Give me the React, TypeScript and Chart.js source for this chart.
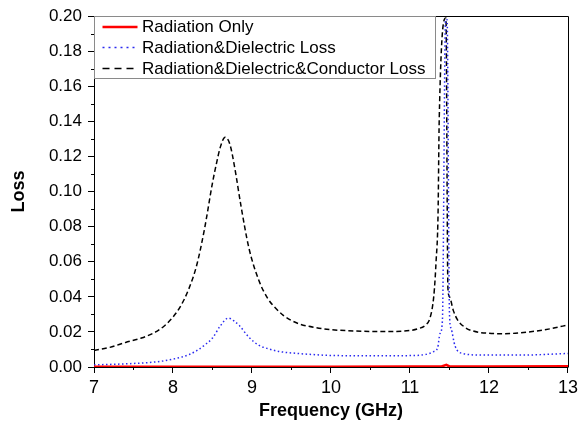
import React, { useEffect, useRef } from "react";
import { Chart, registerables } from "chart.js";

Chart.register(...registerables);

// ---------- DATA ----------
const xTicks = [7, 8, 9, 10, 11, 12, 13];
const yTicks = [0, 0.02, 0.04, 0.06, 0.08, 0.1, 0.12, 0.14, 0.16, 0.18, 0.2];

const seriesNames = [
  "Radiation Only",
  "Radiation&Dielectric Loss",
  "Radiation&Dielectric&Conductor Loss",
];

const radFreq = [7.0, 8.0, 9.0, 10.0, 11.0, 11.4, 11.46, 11.5, 12.0, 13.0];
const radLoss = [0.0002, 0.0002, 0.0002, 0.0002, 0.0003, 0.0003, 0.0012, 0.0003, 0.0003, 0.0004];

const dielFreq = [
  7.0, 7.45, 7.8, 8.0, 8.2, 8.3, 8.4, 8.5, 8.6, 8.7, 8.78, 8.84, 8.96, 9.09, 9.2, 9.35,
  9.56, 9.8, 10.0, 10.5, 11.0, 11.2, 11.3, 11.35, 11.38, 11.41, 11.45, 11.47, 11.5,
  11.52, 11.57, 11.67, 11.9, 12.4, 13.0,
];
const dielLoss = [
  0.0012, 0.0019, 0.003, 0.0045, 0.007, 0.0093, 0.0125, 0.0165, 0.0235, 0.0279, 0.026,
  0.0236, 0.017, 0.0123, 0.0105, 0.0088, 0.0078, 0.007, 0.0066, 0.0064, 0.0065, 0.0072,
  0.0088, 0.011, 0.019, 0.026, 0.198, 0.198, 0.03, 0.022, 0.012, 0.0077, 0.0068, 0.0068,
  0.0077,
];

const condFreq = [
  7.0, 7.2, 7.4, 7.6, 7.8, 7.9, 8.0, 8.1, 8.2, 8.3, 8.4, 8.5, 8.55, 8.6, 8.66, 8.72,
  8.78, 8.86, 8.96, 9.09, 9.2, 9.3, 9.4, 9.5, 9.6, 9.8, 10.0, 10.2, 10.5, 10.8, 11.0,
  11.1, 11.2, 11.25, 11.29, 11.31, 11.33, 11.355, 11.37, 11.455, 11.48, 11.5, 11.55,
  11.6, 11.7, 11.8, 12.0, 12.2, 12.4, 12.6, 12.8, 13.0,
];
const condLoss = [
  0.0094, 0.0112, 0.014, 0.0165, 0.0205, 0.0238, 0.0285, 0.035, 0.0445, 0.058, 0.079,
  0.105, 0.116, 0.1255, 0.131, 0.127, 0.114, 0.092, 0.068, 0.049, 0.039, 0.0335, 0.0293,
  0.0265, 0.0245, 0.0225, 0.0213, 0.0207, 0.0203, 0.0203, 0.0208, 0.0218, 0.024, 0.0275,
  0.036, 0.045, 0.06, 0.087, 0.141, 0.199, 0.045, 0.04, 0.032, 0.027, 0.0225, 0.0205,
  0.0192, 0.019, 0.0195, 0.0205, 0.022, 0.024,
];

const colors = ["#ff0000", "#2a2af0", "#000000"];

const toPts = (xs: number[], ys: number[]) => xs.map((x, i) => ({ x, y: ys[i] }));

const FONT = "'Liberation Sans', Arial, sans-serif";

const framePlugin = {
  id: "frameAndMinor",
  afterDraw(chart: any) {
    const { ctx, chartArea: a, scales } = chart;
    const xs = scales.x;
    const ys = scales.y;
    ctx.save();
    ctx.strokeStyle = "#000";
    ctx.lineWidth = 1;
    // frame top & right
    ctx.beginPath();
    ctx.moveTo(Math.round(a.left) + 0.5, Math.round(a.top) + 0.5);
    ctx.lineTo(Math.round(a.right) + 0.5, Math.round(a.top) + 0.5);
    ctx.lineTo(Math.round(a.right) + 0.5, Math.round(a.bottom) + 0.5);
    ctx.stroke();
    // minor ticks
    ctx.beginPath();
    for (let i = 0; i < xTicks.length - 1; i++) {
      const v = (xTicks[i] + xTicks[i + 1]) / 2;
      const px = Math.round(xs.getPixelForValue(v)) + 0.5;
      ctx.moveTo(px, a.bottom);
      ctx.lineTo(px, a.bottom + 3);
    }
    for (let i = 0; i < yTicks.length - 1; i++) {
      const v = (yTicks[i] + yTicks[i + 1]) / 2;
      const py = Math.round(ys.getPixelForValue(v)) + 0.5;
      ctx.moveTo(a.left, py);
      ctx.lineTo(a.left - 3, py);
    }
    ctx.stroke();

    // legend box
    const lx = Math.round(a.left) + 0.5;
    const ly = Math.round(a.top) + 0.5;
    const lw = 341;
    const lh = 62;
    ctx.fillStyle = "#fff";
    ctx.fillRect(lx, ly, lw, lh);
    ctx.strokeStyle = "#8a8a8a";
    ctx.strokeRect(lx, ly, lw, lh);
    const rows = [10.5, 31, 52];
    const dashes = [[], [2, 4], [7, 5]];
    const widths = [2.5, 1.5, 1.5];
    ctx.font = `17px ${FONT}`;
    ctx.textBaseline = "middle";
    ctx.textAlign = "left";
    for (let i = 0; i < 3; i++) {
      const y = ly + rows[i];
      ctx.beginPath();
      ctx.setLineDash(dashes[i]);
      ctx.strokeStyle = colors[i];
      ctx.lineWidth = widths[i];
      ctx.moveTo(lx + 8, y);
      ctx.lineTo(lx + 43, y);
      ctx.stroke();
      ctx.setLineDash([]);
      ctx.fillStyle = "#000";
      ctx.fillText(seriesNames[i], lx + 47.5, y + 0.5);
    }
    ctx.restore();
  },
};

export default function App() {
  const ref = useRef<HTMLCanvasElement | null>(null);

  useEffect(() => {
    document.body.style.margin = "0";
    const canvas = ref.current;
    if (!canvas) return;
    const chart = new Chart(canvas, {
      type: "line",
      data: {
        datasets: [
          {
            label: seriesNames[0],
            data: toPts(radFreq, radLoss),
            borderColor: colors[0],
            borderWidth: 2.5,
            pointRadius: 0,
            tension: 0,
          },
          {
            label: seriesNames[1],
            data: toPts(dielFreq, dielLoss),
            borderColor: colors[1],
            borderWidth: 1.5,
            borderDash: [1.5, 2.5],
            pointRadius: 0,
            cubicInterpolationMode: "monotone",
          },
          {
            label: seriesNames[2],
            data: toPts(condFreq, condLoss),
            borderColor: colors[2],
            borderWidth: 1.5,
            borderDash: [5, 3],
            pointRadius: 0,
            cubicInterpolationMode: "monotone",
          },
        ],
      },
      options: {
        animation: false,
        responsive: false,
        devicePixelRatio: 1,
        layout: { padding: { top: 13, right: 12, left: 0, bottom: 0 } },
        plugins: {
          legend: { display: false },
          tooltip: { enabled: false },
        },
        scales: {
          x: {
            type: "linear",
            min: 7,
            max: 13,
            afterFit: (s: any) => {
              s.height = 61;
            },
            afterBuildTicks: (s: any) => {
              s.ticks = xTicks.map((v) => ({ value: v }));
            },
            ticks: {
              color: "#000",
              font: { family: FONT, size: 18 },
              padding: 4,
              maxRotation: 0,
              callback: (v: any) => String(v),
            },
            grid: {
              drawOnChartArea: false,
              drawTicks: true,
              tickLength: 6,
              color: "#000",
              lineWidth: 1,
            },
            border: { display: true, color: "#000", width: 1 },
            title: {
              display: true,
              text: "Frequency (GHz)",
              color: "#000",
              font: { family: FONT, size: 18, weight: "bold" },
              padding: { top: 0, bottom: 6 },
            },
          },
          y: {
            type: "linear",
            min: 0,
            max: 0.2,
            afterFit: (s: any) => {
              s.width = 94;
            },
            afterBuildTicks: (s: any) => {
              s.ticks = yTicks.map((v) => ({ value: v }));
            },
            ticks: {
              color: "#000",
              font: { family: FONT, size: 17 },
              padding: 6,
              callback: (v: any) => Number(v).toFixed(2),
            },
            grid: {
              drawOnChartArea: false,
              drawTicks: true,
              tickLength: 6,
              color: "#000",
              lineWidth: 1,
            },
            border: { display: true, color: "#000", width: 1 },
            title: {
              display: true,
              text: "Loss",
              color: "#000",
              font: { family: FONT, size: 18, weight: "bold" },
              padding: { top: 8, bottom: 0 },
            },
          },
        },
      },
      plugins: [framePlugin],
    });
    return () => chart.destroy();
  }, []);

  return (
    <div style={{ width: 582, height: 428 }}>
      <canvas ref={ref} width={582} height={428} style={{ display: "block", width: 582, height: 428 }} />
    </div>
  );
}
